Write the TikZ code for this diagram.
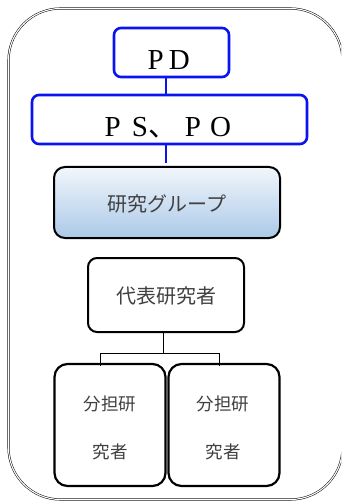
\documentclass[tikz,border=0pt]{standalone}
\usepackage{fontspec}
\setmainfont{Liberation Serif}
\newfontfamily\jp{Noto Sans CJK JP}
\definecolor{pblue}{HTML}{0A14F0}
\definecolor{jgray}{HTML}{404040}
\definecolor{gtop}{HTML}{F2F6FB}
\definecolor{gbot}{HTML}{ABC9E8}
\begin{document}
\begin{tikzpicture}[x=1pt,y=-1pt,
  bluebox/.style={draw=pblue, line width=2.6pt, rounded corners=7pt},
  blackbox/.style={draw=black, line width=2pt, rounded corners=9pt},
  jtext/.style={font=\jp\fontsize{20}{22}\selectfont, text=jgray},
  stext/.style={font=\jp\fontsize{17.5}{20}\selectfont, text=jgray},
  ltext/.style={font=\fontsize{29}{32}\selectfont, inner sep=0pt, anchor=base west}]
\useasboundingbox (0,0) rectangle (341,502);
\fill[white] (0,0) rectangle (341,502);
% outer frame
\begin{scope}
\clip (0,0) rectangle (341,502);
\draw[line width=0.5pt, double=white, double distance=1.1pt, rounded corners=52pt] (8.5,8.5) rectangle (342.5,499.5);
\end{scope}
% PD
\draw[bluebox] (114,28) rectangle (229,77);
\node[ltext] (pd) at (147.5,70) {P\hspace{5pt}D};
\coordinate (pdb) at (166,77);
\coordinate (pst) at (166,95);
\draw[bluebox] (32,95) rectangle (307,144);
\node[ltext] (ps) at (104.5,137) {P\hspace{11pt}S\hspace{1pt}{\jp 、}\hspace{7pt}P\hspace{9pt}O};
\draw[pblue, line width=2.6pt] (pdb) -- (pst);
\coordinate (psb) at (166,144);
\coordinate (grt) at (166,163);
\draw[pblue, line width=2.6pt] (psb) -- (grt);
% research group
\shade[top color=gtop, bottom color=gbot, rounded corners=11pt] (54,167) rectangle (280,238);
\draw[blackbox, rounded corners=11pt] (54,167) rectangle (280,238);
\node[jtext] (gr) at (167,204) {研究グループ};
% representative
\draw[blackbox] (88,258) rectangle (244,332);
\node[jtext] (rep) at (166,296) {代表研究者};
% connectors
\coordinate (repb) at (163,333);
\coordinate (mid) at (163,353);
\coordinate (la) at (100,353);
\coordinate (ra) at (219,353);
\coordinate (lt) at (100,366);
\coordinate (rt) at (219,366);
\draw[line width=0.9pt] (repb) -- (mid);
\draw[line width=0.9pt] (lt) -- (la) -- (ra) -- (rt);
% sub boxes
\draw[blackbox, line width=2.2pt, rounded corners=13pt] (54.5,364) rectangle (165.5,486);
\draw[blackbox, line width=2.2pt, rounded corners=13pt] (168.5,364) rectangle (279.5,486);
\node[stext] (s1a) at (110,404) {分担研};
\node[stext] (s1b) at (110,452) {究者};
\node[stext] (s2a) at (223,404) {分担研};
\node[stext] (s2b) at (223,452) {究者};
\end{tikzpicture}
\end{document}
